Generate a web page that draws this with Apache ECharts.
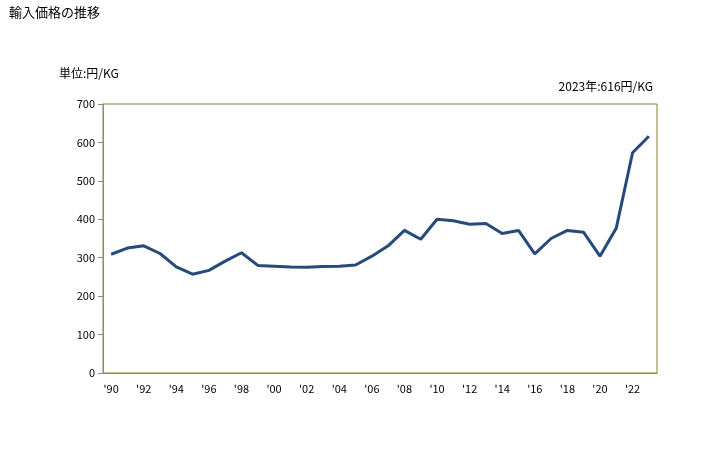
<!DOCTYPE html>
<html>
<head>
<meta charset="utf-8">
<script src="https://cdn.jsdelivr.net/npm/echarts@6/dist/echarts.min.js"></script>
<style>
  html, body { margin: 0; padding: 0; background: #fff; }
  #chart { width: 728px; height: 450px; }
</style>
</head>
<body>
<div id="chart"></div>
<script>
// 年（カテゴリ）
var years = ['1990','1991','1992','1993','1994','1995','1996','1997','1998','1999',
  '2000','2001','2002','2003','2004','2005','2006','2007','2008','2009',
  '2010','2011','2012','2013','2014','2015','2016','2017','2018','2019',
  '2020','2021','2022','2023'];
// 輸入価格（円/KG）
var prices = [309, 325, 331, 311, 276, 257, 267, 291, 313, 280,
  278, 276, 275, 277, 278, 281, 304, 331, 371, 348,
  400, 396, 387, 389, 363, 371, 310, 350, 371, 366,
  304, 377, 573, 616];
var yTicks = [0, 100, 200, 300, 400, 500, 600, 700];

(function() {
  var myChart = echarts.init(document.getElementById('chart'));
  var font = '"Noto Sans CJK JP", sans-serif';
  var option = {
    animation: false,
    textStyle: { fontFamily: font },
    title: [
      {
        text: '輸入価格の推移',
        left: 4,
        top: 1,
        textStyle: { color: '#000', fontSize: 13, fontWeight: 'normal', fontFamily: font }
      },
      {
        text: '単位:円/KG',
        left: 54,
        top: 62,
        textStyle: { color: '#000', fontSize: 12, fontWeight: 'normal', fontFamily: font }
      },
      {
        text: '2023年:' + prices[prices.length - 1] + '円/KG',
        right: 70,
        top: 75,
        textStyle: { color: '#000', fontSize: 12, fontWeight: 'normal', fontFamily: font }
      }
    ],
    grid: {
      left: 103,
      right: 71,
      top: 104,
      bottom: 77,
      show: true,
      borderColor: '#8b7d3a',
      borderWidth: 1,
      backgroundColor: 'transparent'
    },
    xAxis: {
      type: 'category',
      boundaryGap: true,
      data: years,
      axisLine: { lineStyle: { color: '#888' } },
      axisTick: { show: false },
      axisLabel: {
        interval: 1,
        color: '#000',
        fontSize: 11,
        margin: 10,
        formatter: function(v) { return "'" + v.slice(2); }
      },
      splitLine: { show: false }
    },
    yAxis: {
      type: 'value',
      min: yTicks[0],
      max: yTicks[yTicks.length - 1],
      interval: 100,
      axisLine: { show: true, lineStyle: { color: '#888' } },
      axisTick: { show: true, length: 5, lineStyle: { color: '#888' } },
      axisLabel: { color: '#000', fontSize: 11, margin: 8 },
      splitLine: { show: false }
    },
    series: [
      {
        type: 'line',
        data: prices,
        symbol: 'none',
        lineStyle: { color: '#264a7a', width: 3 }
      }
    ]
  };
  myChart.setOption(option);
})();
</script>
</body>
</html>
